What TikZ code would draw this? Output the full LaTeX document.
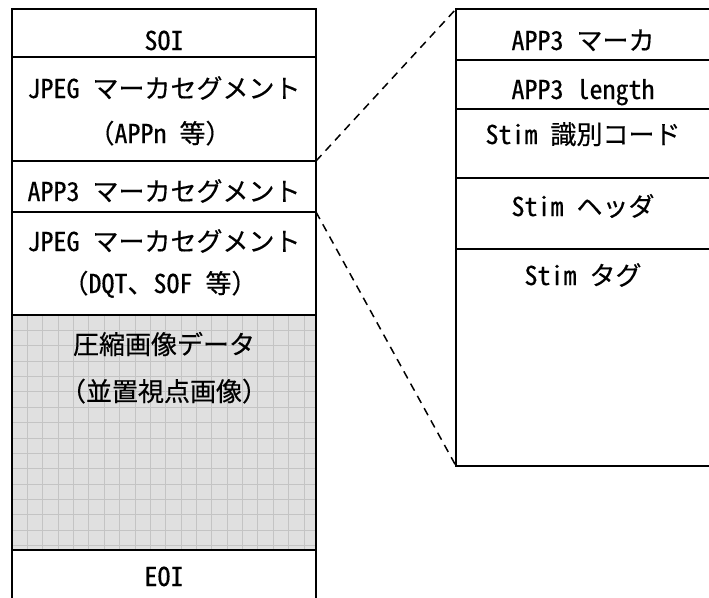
\documentclass[tikz,border=0pt]{standalone}
\usepackage{fontspec}
\setmainfont{Noto Sans CJK JP}[FakeBold=0.4]
\newfontfamily\hwfont{Noto Sans CJK JP}[RawFeature=+hwid, FakeBold=0.4]
\newcommand{\hw}[1]{{\hwfont #1}}
\definecolor{gridfill}{RGB}{224,224,224}
\definecolor{gridline}{RGB}{196,196,196}
\tikzset{
  cell/.style={draw=black, line width=2.4pt, inner sep=0pt, outer sep=0pt, anchor=north west},
  txt/.style={inner sep=0pt, text height=23pt, text depth=3pt, font=\fontsize{26}{30}\selectfont},
  dashline/.style={draw=black, line width=1.5pt, dash pattern=on 8pt off 6pt},
  gridstroke/.style={draw=gridline, line width=0.9pt},
}
\begin{document}
\begin{tikzpicture}[x=1pt, y=-1pt]
\useasboundingbox (0,0) rectangle (709,597);
\clip (0,0) rectangle (709,597);
% left column
\node[cell, minimum width=304pt, minimum height=48pt]  (soi)  at (12,9)   {};
\node[cell, minimum width=304pt, minimum height=104pt] (jpg1) at (12,57)  {};
\node[cell, minimum width=304pt, minimum height=51pt]  (app3) at (12,161) {};
\node[cell, minimum width=304pt, minimum height=103pt] (jpg2) at (12,212) {};
\node[cell, minimum width=304pt, minimum height=235pt, fill=gridfill] (img) at (12,315) {};
\begin{scope}
  \clip (img.north west) rectangle (img.south east);
  \foreach \k in {1,...,19} \draw[gridstroke] (12+15.37*\k,300) -- (12+15.37*\k,560);
  \foreach \k in {1,...,15} \draw[gridstroke] (0,315+15.37*\k) -- (330,315+15.37*\k);
\end{scope}
\draw[line width=2.4pt] (img.north west) rectangle (img.south east);
\node[cell, minimum width=304pt, minimum height=60pt]  (eoi)  at (12,550) {};
% right column
\node[cell, minimum width=256pt, minimum height=51pt]  (r1) at (456,9)   {};
\node[cell, minimum width=256pt, minimum height=49pt]  (r2) at (456,60)  {};
\node[cell, minimum width=256pt, minimum height=69pt]  (r3) at (456,109) {};
\node[cell, minimum width=256pt, minimum height=71pt]  (r4) at (456,178) {};
\node[cell, minimum width=256pt, minimum height=217pt] (r5) at (456,249) {};
% texts left
\node[txt] (tsoi)  at (164,40)  {\hw{SOI}};
\node[txt] (tj1a)  at (164,88)  {\hw{JPEG }マーカセグメント};
\node[txt] (tj1b)  at (160,133) {（\hw{APPn }等）};
\node[txt] (tapp3) at (164,191) {\hw{APP3 }マーカセグメント};
\node[txt] (tj2a)  at (164,241) {\hw{JPEG }マーカセグメント};
\node[txt] (tj2b)  at (160,283) {（\hw{DQT}、\hw{SOF }等）};
\node[txt] (timga) at (164,344) {圧縮画像データ};
\node[txt] (timgb) at (164,391) {（並置視点画像）};
\node[txt] (teoi)  at (164,576) {\hw{EOI}};
% texts right
\node[txt] (tr1) at (583,40)  {\hw{APP3 }マーカ};
\node[txt] (tr2) at (583,89)  {\hw{APP3 length}};
\node[txt] (tr3) at (583,134) {\hw{Stim }識別コード};
\node[txt] (tr4) at (583,206) {\hw{Stim }ヘッダ};
\node[txt] (tr5) at (583,275) {\hw{Stim }タグ};
% connectors
\draw[dashline] (app3.north east) -- (r1.north west);
\draw[dashline] (app3.south east) -- (r5.south west);
\end{tikzpicture}
\end{document}
